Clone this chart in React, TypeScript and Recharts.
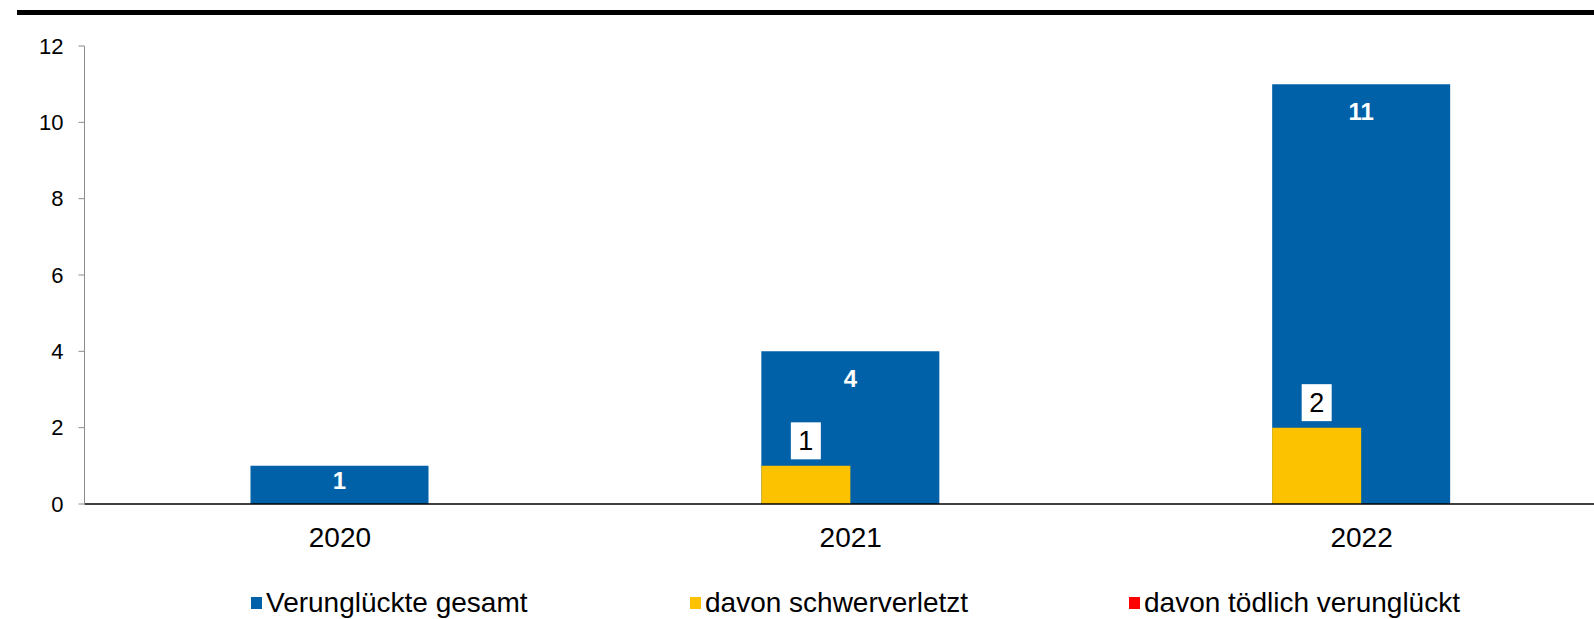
import { BarChart, Bar, XAxis, YAxis, Legend, LabelList } from 'recharts'

const YEARS = ['2020', '2021', '2022']
const GESAMT = [1, 4, 11]
const SCHWER = [0, 1, 2]
const TOEDLICH = [0, 0, 0]
const Y_TICKS = [0, 2, 4, 6, 8, 10, 12]

const SERIES = [
  { key: 'gesamt', name: 'Verunglückte gesamt', color: '#0061a8' },
  { key: 'schwer', name: 'davon schwerverletzt', color: '#fcc200' },
  { key: 'toedlich', name: 'davon tödlich verunglückt', color: '#ff0000' },
]

const data = YEARS.map((year, i) => ({
  year,
  gesamt: GESAMT[i],
  schwer: SCHWER[i],
  toedlich: TOEDLICH[i],
}))

const FONT = '"Liberation Sans", Arial, sans-serif'

function TotalLabel(props: any) {
  const { x, y, width, height, value } = props
  if (!value) return null
  const cy = y + Math.min(27, height * 0.38)
  return (
    <text
      x={x + width / 2}
      y={cy}
      dy="0.355em"
      textAnchor="middle"
      fill="#fff"
      fontWeight="bold"
      fontSize={24}
      fontFamily={FONT}
    >
      {value}
    </text>
  )
}

function BoxLabel(props: any) {
  const { x, y, width, value } = props
  if (!value) return null
  const cx = x + width / 2
  return (
    <g>
      <rect x={cx - 15} y={y - 43.5} width={30} height={37} fill="#fff" />
      <text
        x={cx}
        y={y - 25}
        dy="0.355em"
        textAnchor="middle"
        fill="#000"
        fontSize={27}
        fontFamily={FONT}
      >
        {value}
      </text>
    </g>
  )
}

function LegendContent() {
  return (
    <div style={{ display: 'flex', paddingLeft: 251, fontFamily: FONT, fontSize: 28, lineHeight: 1 }}>
      {SERIES.map((s) => (
        <div key={s.key} style={{ width: 439, display: 'flex', alignItems: 'center' }}>
          <span style={{ width: 11, height: 12, background: s.color, marginRight: 4, display: 'inline-block' }} />
          <span>{s.name}</span>
        </div>
      ))}
    </div>
  )
}

export default function App() {
  return (
    <div style={{ position: 'absolute', left: 0, top: 0, width: 1594, height: 619, overflow: 'hidden', background: '#fff' }}>
      <div style={{ position: 'absolute', left: 17, top: 10, width: 1577, height: 5, background: '#000' }} />
      <BarChart
        width={1617}
        height={619}
        data={data}
        margin={{ top: 46, right: 0, bottom: 85, left: 0 }}
        barGap={0}
      >
        <XAxis
          xAxisId="a"
          dataKey="year"
          height={30}
          axisLine={{ stroke: '#000', strokeWidth: 1.5 }}
          tickLine={false}
          tickSize={0}
          tickMargin={23}
          tick={{ fontSize: 28, fill: '#000', fontFamily: FONT }}
        />
        <XAxis xAxisId="b" dataKey="year" hide />
        <YAxis
          domain={[0, 12]}
          ticks={Y_TICKS}
          width={84.5}
          axisLine={{ stroke: '#8c8c8c' }}
          tickLine={{ stroke: '#8c8c8c' }}
          tickSize={6}
          tickMargin={15}
          tick={{ fontSize: 22, fill: '#000', fontFamily: FONT }}
          interval={0}
        />
        <Legend
          verticalAlign="middle"
          align="center"
          layout="horizontal"
          content={<LegendContent />}
          wrapperStyle={{ top: 589, left: 0, width: 1594 }}
        />
        <Bar
          xAxisId="a"
          dataKey="gesamt"
          name={SERIES[0].name}
          fill={SERIES[0].color}
          barSize={178}
          isAnimationActive={false}
        >
          <LabelList dataKey="gesamt" content={<TotalLabel />} />
        </Bar>
        <Bar
          xAxisId="b"
          dataKey="schwer"
          name={SERIES[1].name}
          fill={SERIES[1].color}
          barSize={89}
          isAnimationActive={false}
        >
          <LabelList dataKey="schwer" content={<BoxLabel />} />
        </Bar>
        <Bar
          xAxisId="b"
          dataKey="toedlich"
          name={SERIES[2].name}
          fill={SERIES[2].color}
          barSize={89}
          isAnimationActive={false}
        />
      </BarChart>
    </div>
  )
}
